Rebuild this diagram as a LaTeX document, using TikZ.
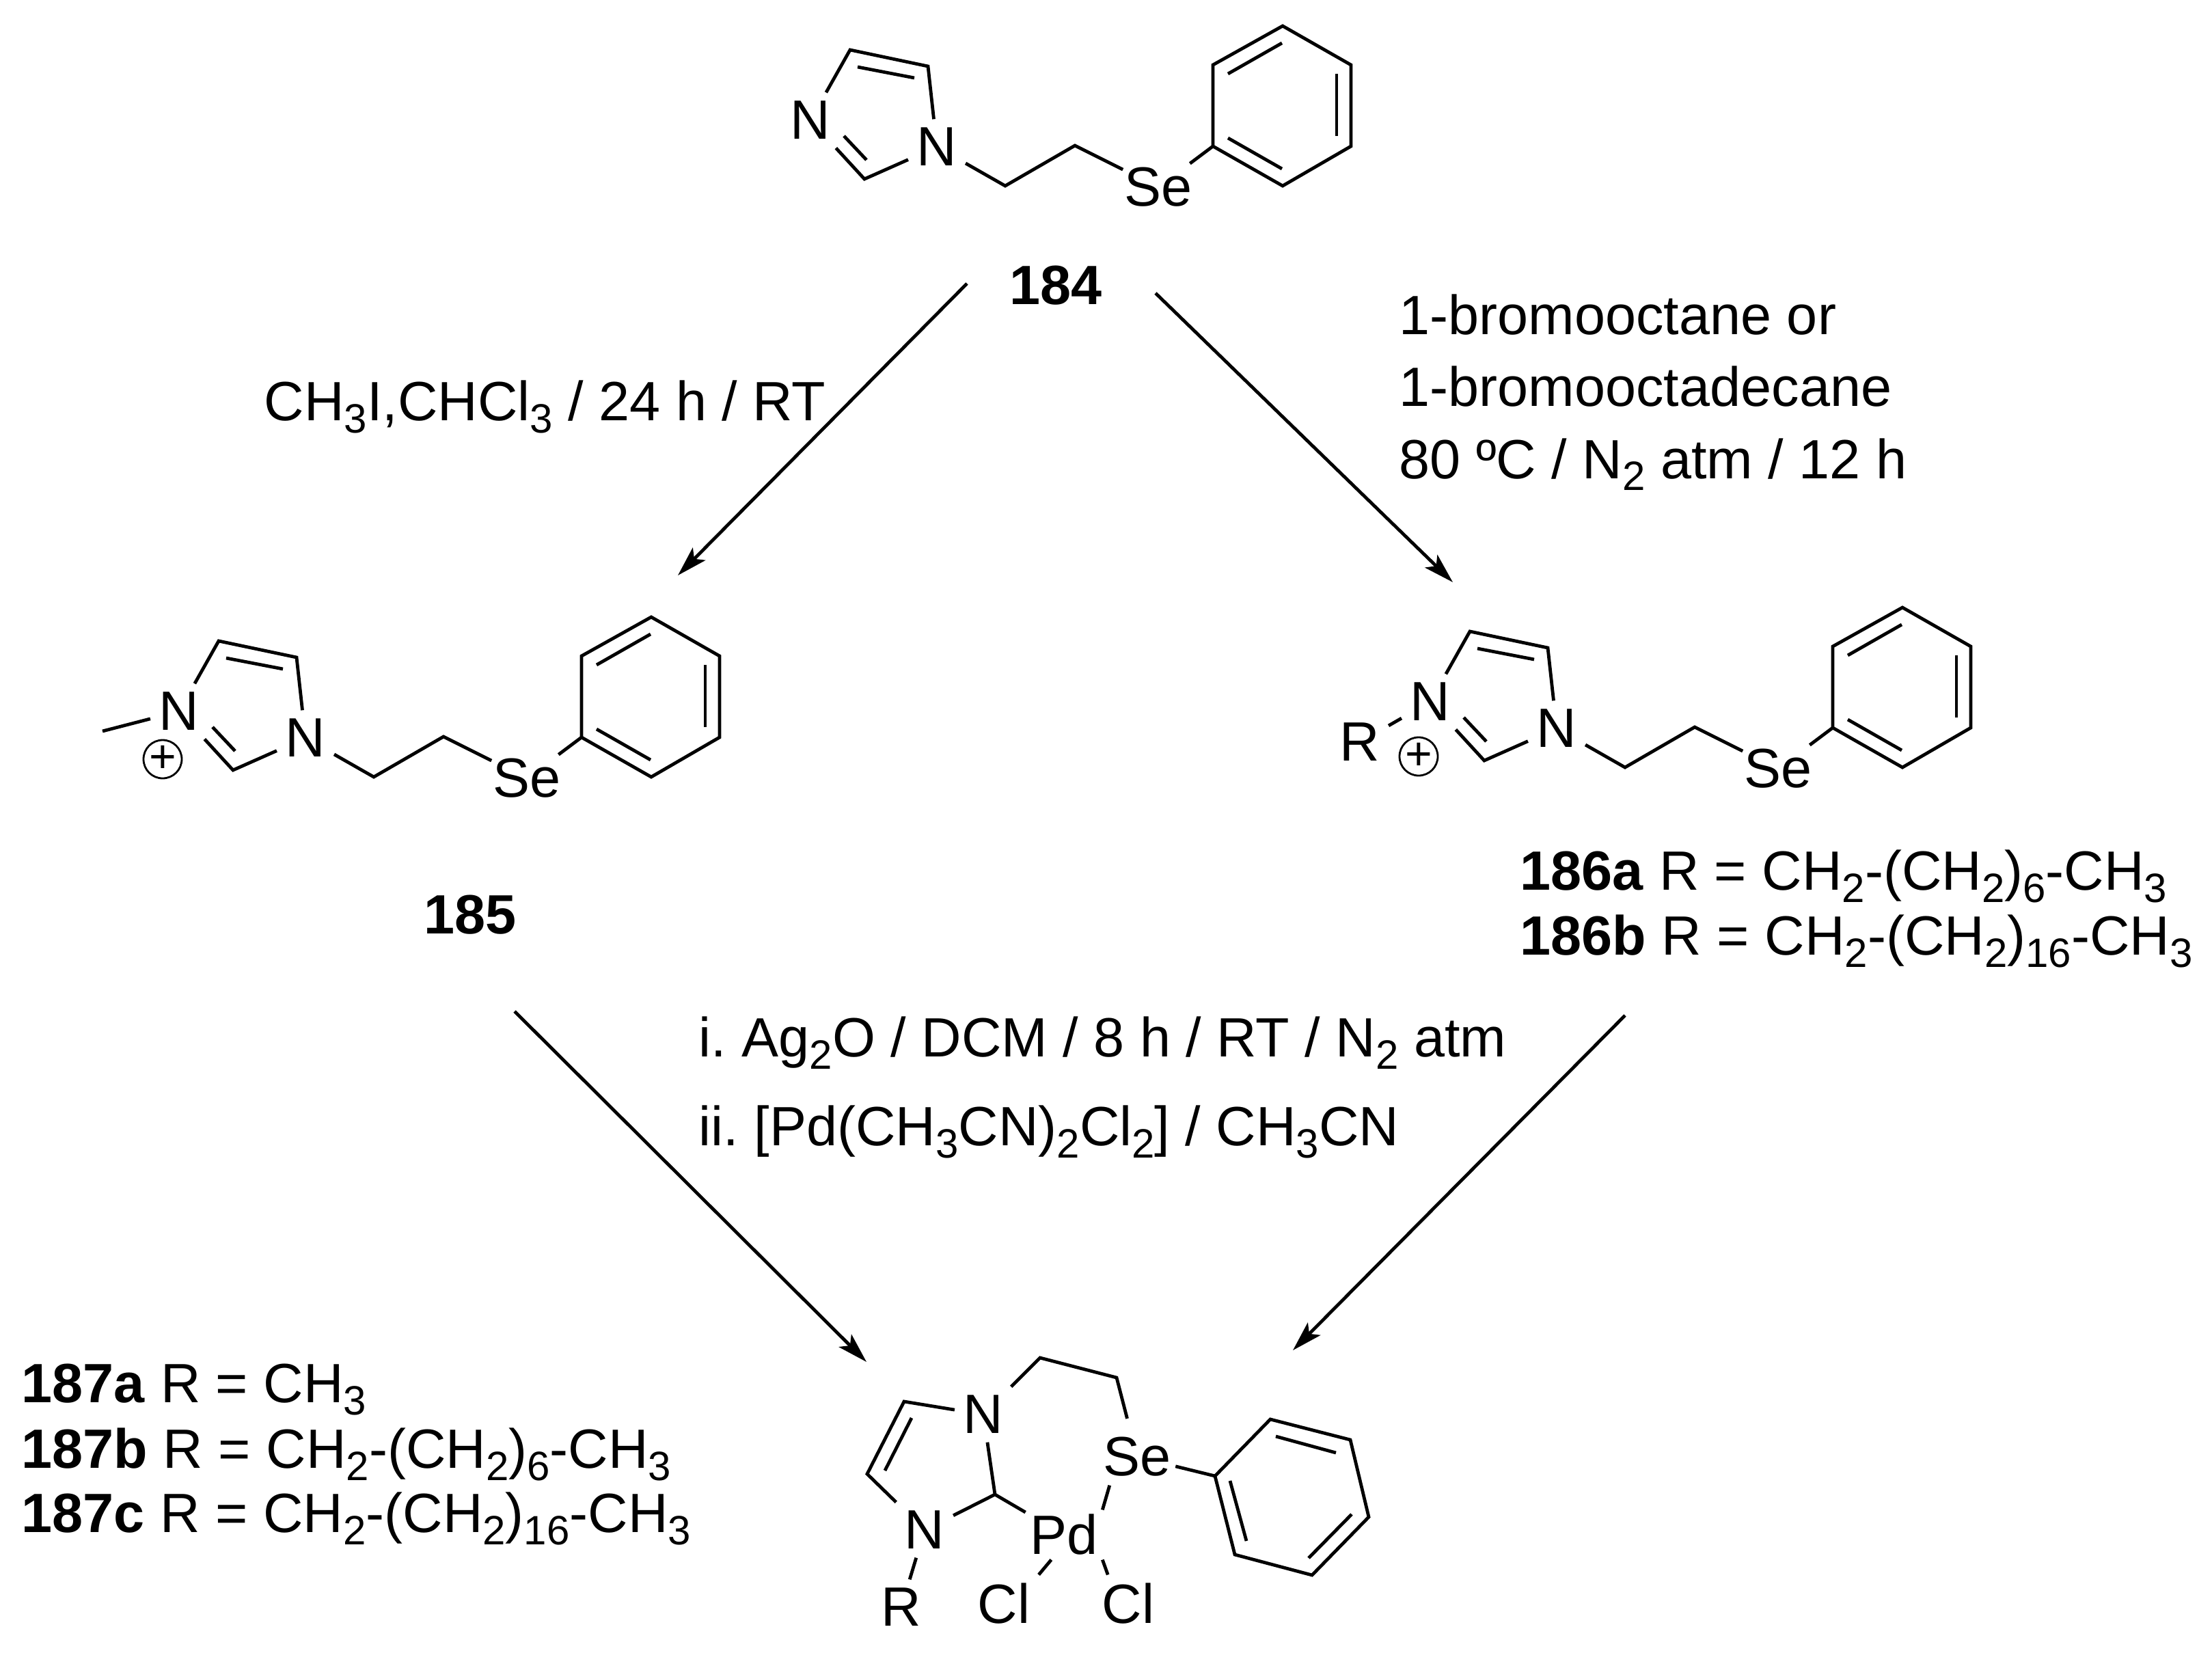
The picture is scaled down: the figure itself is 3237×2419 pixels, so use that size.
\documentclass[tikz,border=0pt]{standalone}
\usepackage{fontspec}
\setmainfont{Liberation Sans}
\usetikzlibrary{arrows.meta}
\newcommand{\chemfont}{\frenchspacing\fontsize{20.25}{24}\selectfont}
\newcommand{\subs}[1]{\raisebox{-4.5pt}{\fontsize{15}{15}\selectfont #1}}
\tikzstyle{atom} = [inner sep=3pt]
\tikzstyle{metal} = [inner sep=1.5pt]
\tikzstyle{selen} = [circle, inner sep=0pt]
\tikzstyle{bond} = [line width=1.2pt]
\tikzstyle{reaction} = [line width=1.2pt, -{Stealth[length=11pt,width=6.5pt,inset=2.5pt]}]
\tikzstyle{caption} = [anchor=base west, inner sep=0pt]
\tikzstyle{charge} = [draw, circle, line width=.7pt, inner sep=0pt, minimum size=14pt, font=\fontsize{17}{17}\selectfont]
\tikzset{
	selenide/.pic={
		% imidazole ring
		\node[atom] (n3) at (1186,176) {N};
		\node[atom] (n1) at (1371,215) {N};
		\coordinate (c5) at (1244,73);
		\coordinate (c4) at (1358,97);
		\coordinate (c2) at (1265,262);
		\draw[bond] (n3) -- (c5) -- (c4) -- (n1) -- (c2) -- (n3);
		\draw[bond] (1255,98) -- (1338,114);
		\draw[bond] (1235,199) -- (1268,234);
		% chain
		\node[selen] (se) at (1695,274) {Se};
		\coordinate (ch1) at (1471,272);
		\coordinate (ch2) at (1573,213);
		\draw[bond] (n1) -- (ch1) -- (ch2) -- (se);
		% phenyl
		\coordinate (ph1) at (1775,214);
		\coordinate (ph2) at (1775,95);
		\coordinate (ph3) at (1877,38);
		\coordinate (ph4) at (1977,95);
		\coordinate (ph5) at (1977,214);
		\coordinate (ph6) at (1877,272);
		\draw[bond] (ph1) -- (ph2) -- (ph3) -- (ph4) -- (ph5) -- (ph6) -- cycle;
		\draw[bond] (se) -- (ph1);
		\draw[bond] (1797,108) -- (1876,63);
		\draw[bond] (1956,108) -- (1956,199);
		\draw[bond] (1797,202) -- (1876,247);
	}
}
\begin{document}
\begin{tikzpicture}[x=.25pt, y=-.25pt, every node/.style={font=\chemfont}]
	\useasboundingbox (0,0) rectangle (3237,2419);
	% the three open compounds
	\pic (top-) at (0,0) {selenide};
	\pic (left-) at (-924,865) {selenide};
	\pic (right-) at (907,851) {selenide};
	\node[caption, font=\chemfont\bfseries] (l184) at (1477,445) {184};
	\node[caption, font=\chemfont\bfseries] (l185) at (620,1366) {185};
	\node[charge] (plusleft) at (238,1111) {+};
	\coordinate (methyl) at (150,1070);
	\draw[bond] (methyl) -- (left-n3);
	\node[charge] (plusright) at (2076,1107) {+};
	\node[atom] (rright) at (1990,1086) {R};
	\draw[bond] (rright) -- (right-n3);
	\node[caption] (l186a) at (2224,1302) {\textbf{186a} R = CH\subs{2}-(CH\subs{2})\subs{6}-CH\subs{3}};
	\node[caption] (l186b) at (2224,1397) {\textbf{186b} R = CH\subs{2}-(CH\subs{2})\subs{16}-CH\subs{3}};
	% reagents
	\node[caption] (ra) at (386,615) {CH\subs{3}I,CHCl\subs{3} / 24 h / RT};
	\node[caption] (rb1) at (2047,489) {1-bromooctane or};
	\node[caption] (rb2) at (2047,594) {1-bromooctadecane};
	\node[caption] (rb3) at (2047,700) {80 ºC / N\subs{2} atm / 12 h};
	\node[caption] (rc1) at (1022,1546) {i. Ag\subs{2}O / DCM / 8 h / RT / N\subs{2} atm};
	\node[caption] (rc2) at (1022,1676) {ii. [Pd(CH\subs{3}CN)\subs{2}Cl\subs{2}] / CH\subs{3}CN};
	% palladium complex
	\node[atom] (pn1) at (1439,2070) {N};
	\node[atom] (pn3) at (1353,2239) {N};
	\node[selen] (pse) at (1664,2132) {Se};
	\node[metal] (pd) at (1557,2246) {Pd};
	\node[atom] (pr) at (1319,2352) {R};
	\node[atom] (cla) at (1469,2347) {Cl};
	\node[atom] (clb) at (1651,2347) {Cl};
	\coordinate (pc5) at (1323,2051);
	\coordinate (pc4) at (1269,2157);
	\coordinate (pc2) at (1456,2187);
	\draw[bond] (pn1) -- (pc5) -- (pc4) -- (pn3);
	\draw[bond] (1334,2075) -- (1295,2152);
	\draw[bond] (pn1) -- (pc2) -- (pn3);
	\draw[bond] (pc2) -- (pd);
	\coordinate (pch1) at (1522,1987);
	\coordinate (pch2) at (1634,2016);
	\draw[bond] (pn1) -- (pch1) -- (pch2) -- (pse);
	\draw[bond] (pse.-134) -- (pd.north east);
	\draw[bond] (pn3) -- (pr);
	\draw[bond] (pd.-117) -- (cla.north east);
	\draw[bond] (pd.south east) -- (clb.125);
	\coordinate (pph1) at (1778,2160);
	\coordinate (pph2) at (1859,2077);
	\coordinate (pph3) at (1976,2107);
	\coordinate (pph4) at (2003,2220);
	\coordinate (pph5) at (1920,2305);
	\coordinate (pph6) at (1807,2275);
	\draw[bond] (pph1) -- (pph2) -- (pph3) -- (pph4) -- (pph5) -- (pph6) -- cycle;
	\draw[bond] (pse) -- (pph1);
	\draw[bond] (1867,2102) -- (1955,2126);
	\draw[bond] (1978,2216) -- (1915,2280);
	\draw[bond] (1824,2255) -- (1800,2167);
	\node[caption] (l187a) at (31,2052) {\textbf{187a} R = CH\subs{3}};
	\node[caption] (l187b) at (31,2148) {\textbf{187b} R = CH\subs{2}-(CH\subs{2})\subs{6}-CH\subs{3}};
	\node[caption] (l187c) at (31,2242) {\textbf{187c} R = CH\subs{2}-(CH\subs{2})\subs{16}-CH\subs{3}};
	% arrows
	\coordinate (sa) at (1415,415);
	\coordinate (ea) at (992,842);
	\coordinate (sb) at (1691,429);
	\coordinate (eb) at (2126,852);
	\coordinate (sc) at (753,1480);
	\coordinate (ec) at (1268,1993);
	\coordinate (sd) at (2378,1486);
	\coordinate (ed) at (1892,1976);
	\draw[reaction] (sa) -- (ea);
	\draw[reaction] (sb) -- (eb);
	\draw[reaction] (sc) -- (ec);
	\draw[reaction] (sd) -- (ed);
\end{tikzpicture}
\end{document}
